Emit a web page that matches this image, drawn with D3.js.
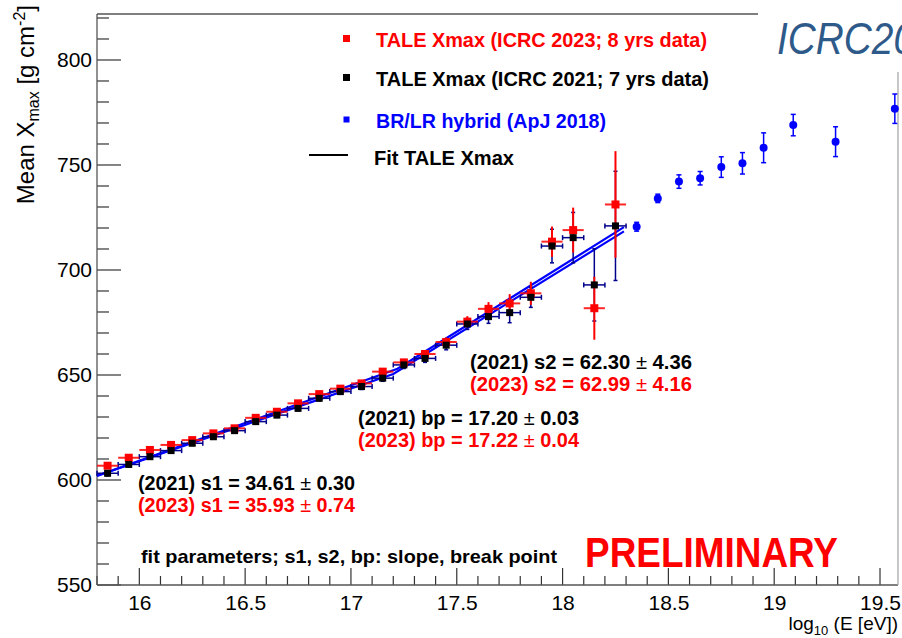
<!DOCTYPE html>
<html>
<head>
<meta charset="utf-8">
<script src="https://cdn.jsdelivr.net/npm/d3@7"></script>
<style>
  html, body { margin: 0; padding: 0; background: #fff; }
  svg { display: block; }
  text { font-family: "Liberation Sans", Arial, Helvetica, sans-serif; }
</style>
</head>
<body>
<svg id="chart" width="902" height="638"></svg>
<script>
// TALE bins: log10(E/eV) bin centres
const logE = [15.85, 15.95, 16.05, 16.15, 16.25, 16.35, 16.45, 16.55, 16.65, 16.75,
              16.85, 16.95, 17.05, 17.15, 17.25, 17.35, 17.45, 17.55, 17.65, 17.75,
              17.85, 17.95, 18.05, 18.15, 18.25];

// TALE <Xmax>, ICRC 2023 (8 years)
const xmax2023 = [606.8, 610.6, 614.3, 616.7, 619.0, 622.2, 624.6, 629.6, 632.5, 636.5,
                  640.9, 643.5, 646.0, 651.6, 656.0, 660.0, 665.7, 675.4, 681.5, 684.1,
                  688.9, 713.5, 719.0, 681.8, 731.2];
const err2023  = [1.2, 1.1, 1.0, 1.0, 1.0, 1.0, 1.0, 1.0, 1.1, 1.1,
                  1.2, 1.3, 1.4, 1.5, 1.7, 1.9, 2.2, 2.6, 3.2, 4.4,
                  5.5, 7.2, 10.7, 15.0, 25.4];

// TALE <Xmax>, ICRC 2021 (7 years)
const xmax2021 = [603.2, 607.4, 611.1, 614.0, 617.5, 620.6, 623.5, 627.8, 630.9, 634.1,
                  638.9, 642.1, 644.5, 648.5, 654.8, 657.9, 664.2, 674.3, 677.8, 679.7,
                  687.0, 711.4, 715.4, 692.9, 721.0];
const err2021  = [1.2, 1.1, 1.0, 1.0, 1.0, 1.0, 1.0, 1.0, 1.1, 1.1,
                  1.2, 1.3, 1.4, 1.5, 1.7, 1.9, 2.2, 2.6, 3.2, 4.8,
                  4.8, 8.0, 12.0, 17.2, 26.0];
const binHalfWidth = 0.05;

// BR/LR hybrid (ApJ 2018)
const logEHybrid = [18.35, 18.45, 18.55, 18.65, 18.75, 18.85, 18.95, 19.09, 19.29, 19.57];
const xmaxHybrid = [720.6, 734.1, 742.1, 743.7, 749.0, 750.8, 758.2, 769.0, 761.1, 776.8];
const errHybrid  = [2.1, 2.0, 3.2, 3.2, 4.9, 5.1, 7.1, 5.1, 7.1, 7.0];

// Broken-line fits: [2021, 2023]
const fitYears = ["2021", "2023"];
const fitS1 = [34.61, 35.93];
const fitS1Err = [0.30, 0.74];
const fitS2 = [62.30, 62.99];
const fitS2Err = [4.36, 4.16];
const fitBp = [17.20, 17.22];
const fitBpErr = [0.03, 0.04];
const fitXmaxAtBp = [650.5, 653.0];
const fitRange = [15.8, 18.29];

// Axis ticks
const xTickValues = [16, 16.5, 17, 17.5, 18, 18.5, 19, 19.5];
const yTickValues = [550, 600, 650, 700, 750, 800];

// Legend entries
const legendLabels = ["TALE Xmax (ICRC 2023; 8 yrs data)",
                      "TALE Xmax (ICRC 2021; 7 yrs data)",
                      "BR/LR hybrid (ApJ 2018)",
                      "Fit TALE Xmax"];

const RED = "#ff0000", NAVY = "#00008b", BLUE = "#0000ff";

const svg = d3.select("#chart");
const frame = {left: 97, right: 898, top: 14, bottom: 585};

const x = d3.scaleLinear().domain([15.8, 19.585]).range([frame.left, frame.right]);
const y = d3.scaleLinear().domain([550, 821.9]).range([frame.bottom, frame.top]);

// ---- axes ----
const xMinor = d3.range(158, 196).map(v => v / 10).filter(v => v <= 19.585);
const yMinor = d3.range(550, 821, 10);

const xAxis = d3.axisBottom(x).tickValues(xTickValues).tickSize(0).tickPadding(0)
  .tickFormat(d3.format("~g"));
const gx = svg.append("g").attr("transform", `translate(0,${frame.bottom})`).call(xAxis);
gx.select(".domain").remove();
gx.selectAll("text").attr("dy", null).attr("y", 25)
  .attr("font-size", 21).attr("fill", "#000")
  .attr("font-family", '"Liberation Sans", Arial, sans-serif');

const yAxis = d3.axisLeft(y).tickValues(yTickValues).tickSize(0).tickPadding(5);
const gy = svg.append("g").attr("transform", `translate(${frame.left},0)`).call(yAxis);
gy.select(".domain").remove();
gy.selectAll("text").attr("font-size", 21).attr("fill", "#000")
  .attr("font-family", '"Liberation Sans", Arial, sans-serif');

// tick marks drawn inside the frame
const ticks = svg.append("g").attr("stroke", "#333").attr("stroke-width", 1.2);
xMinor.forEach(v => {
  const major = Math.abs(v * 2 - Math.round(v * 2)) < 1e-6;
  ticks.append("line")
    .attr("x1", x(v)).attr("x2", x(v))
    .attr("y1", frame.bottom).attr("y2", frame.bottom - (major ? 17 : 9));
});
yMinor.forEach(v => {
  const major = v % 50 === 0;
  ticks.append("line")
    .attr("x1", frame.left).attr("x2", frame.left + (major ? 24 : 12))
    .attr("y1", y(v)).attr("y2", y(v));
});

// frame
const fr = svg.append("g").attr("stroke", "#555").attr("stroke-width", 1.3).attr("fill", "none");
fr.append("line").attr("x1", frame.left).attr("x2", frame.left).attr("y1", frame.top).attr("y2", frame.bottom);
fr.append("line").attr("x1", frame.left).attr("x2", frame.right).attr("y1", frame.bottom).attr("y2", frame.bottom);
fr.append("line").attr("x1", frame.left).attr("x2", frame.right).attr("y1", frame.top).attr("y2", frame.top);
fr.append("line").attr("x1", frame.right).attr("x2", frame.right).attr("y1", frame.top).attr("y2", frame.bottom)
  .attr("stroke", "#aaa");

// ---- fit lines ----
const fitLine = d3.line().x(d => x(d[0])).y(d => y(d[1]));
fitYears.forEach((yr, i) => {
  const f = e => fitXmaxAtBp[i] + (e < fitBp[i] ? fitS1[i] : fitS2[i]) * (e - fitBp[i]);
  const pts = [fitRange[0], fitBp[i], fitRange[1]].map(e => [e, f(e)]);
  svg.append("path").datum(pts).attr("d", fitLine)
    .attr("fill", "none").attr("stroke", BLUE).attr("stroke-width", 2.2);
});

// ---- TALE 2021 error bars (navy, with end caps) ----
const tale2021 = logE.map((e, i) => ({e, v: xmax2021[i], s: err2021[i]}));
const tale2023 = logE.map((e, i) => ({e, v: xmax2023[i], s: err2023[i]}));

const eb21 = svg.append("g").attr("stroke", NAVY).attr("stroke-width", 1.5);
tale2021.forEach(d => {
  const cx = x(d.e), cy = y(d.v);
  const x0 = x(d.e - binHalfWidth), x1 = x(d.e + binHalfWidth);
  const y0 = y(d.v - d.s), y1 = y(d.v + d.s);
  eb21.append("line").attr("x1", x0).attr("x2", x1).attr("y1", cy).attr("y2", cy);
  eb21.append("line").attr("x1", x0).attr("x2", x0).attr("y1", cy - 2.5).attr("y2", cy + 2.5);
  eb21.append("line").attr("x1", x1).attr("x2", x1).attr("y1", cy - 2.5).attr("y2", cy + 2.5);
  eb21.append("line").attr("x1", cx).attr("x2", cx).attr("y1", y0).attr("y2", y1);
  eb21.append("line").attr("x1", cx - 2).attr("x2", cx + 2).attr("y1", y0).attr("y2", y0);
  eb21.append("line").attr("x1", cx - 2).attr("x2", cx + 2).attr("y1", y1).attr("y2", y1);
});

// ---- TALE 2023 error bars (red) and markers ----
const eb23 = svg.append("g").attr("stroke", RED).attr("stroke-width", 2);
tale2023.forEach(d => {
  const cx = x(d.e), cy = y(d.v);
  eb23.append("line").attr("x1", x(d.e - binHalfWidth)).attr("x2", x(d.e + binHalfWidth))
    .attr("y1", cy).attr("y2", cy).attr("stroke-opacity", 0.85);
  eb23.append("line").attr("x1", cx).attr("x2", cx)
    .attr("y1", y(d.v - d.s)).attr("y2", y(d.v + d.s));
});
svg.append("g").selectAll("rect").data(tale2023).join("rect")
  .attr("x", d => x(d.e) - 4).attr("y", d => y(d.v) - 4)
  .attr("width", 8).attr("height", 8).attr("fill", RED);

// ---- TALE 2021 markers ----
svg.append("g").selectAll("rect").data(tale2021).join("rect")
  .attr("x", d => x(d.e) - 3.5).attr("y", d => y(d.v) - 3.5)
  .attr("width", 7).attr("height", 7).attr("fill", "#000");

// ---- BR/LR hybrid ----
const hybrid = logEHybrid.map((e, i) => ({e, v: xmaxHybrid[i], s: errHybrid[i]}));
const ebh = svg.append("g").attr("stroke", BLUE).attr("stroke-width", 1.5);
hybrid.forEach(d => {
  const cx = x(d.e), y0 = y(d.v - d.s), y1 = y(d.v + d.s);
  ebh.append("line").attr("x1", cx).attr("x2", cx).attr("y1", y0).attr("y2", y1);
  ebh.append("line").attr("x1", cx - 2.5).attr("x2", cx + 2.5).attr("y1", y0).attr("y2", y0);
  ebh.append("line").attr("x1", cx - 2.5).attr("x2", cx + 2.5).attr("y1", y1).attr("y2", y1);
});
svg.append("g").selectAll("circle").data(hybrid).join("circle")
  .attr("cx", d => x(d.e)).attr("cy", d => y(d.v)).attr("r", 4).attr("fill", BLUE);

// ---- legend ----
const legColors = [RED, "#000", BLUE, "#000"];
const legY = [39, 78, 120, 157];
const legWidths = [331, 333, 230, 140];
const leg = svg.append("g");
legendLabels.forEach((t, i) => {
  leg.append("text").attr("x", i === 3 ? 374 : 376).attr("y", legY[i] + 8)
    .attr("font-size", 21).attr("font-weight", "bold").attr("fill", legColors[i])
    .attr("textLength", legWidths[i]).attr("lengthAdjust", "spacingAndGlyphs").text(t);
});
leg.append("rect").attr("x", 343).attr("y", legY[0] - 4).attr("width", 7).attr("height", 7).attr("fill", RED);
leg.append("rect").attr("x", 343).attr("y", legY[1] - 4).attr("width", 7).attr("height", 7).attr("fill", "#000");
leg.append("rect").attr("x", 343.5).attr("y", legY[2] - 3.5).attr("width", 6).attr("height", 6).attr("fill", BLUE);
leg.append("line").attr("x1", 309).attr("x2", 348).attr("y1", legY[3] - 2).attr("y2", legY[3] - 2)
  .attr("stroke", "#000").attr("stroke-width", 2);

// ---- fit parameter annotations ----
const fmt = d3.format(".2f");
function paramText(px, py, width, yr, name, val, err, color) {
  const t = svg.append("text").attr("x", px).attr("y", py)
    .attr("font-size", 20).attr("font-weight", "bold").attr("fill", color)
    .attr("textLength", width).attr("lengthAdjust", "spacingAndGlyphs");
  t.append("tspan").text(`(${yr}) ${name} = ${fmt(val)} `);
  t.append("tspan").attr("font-weight", "normal").text("\u00b1");
  t.append("tspan").text(` ${fmt(err)}`);
}
paramText(470, 369, 222, fitYears[0], "s2", fitS2[0], fitS2Err[0], "#000");
paramText(470, 391, 222, fitYears[1], "s2", fitS2[1], fitS2Err[1], RED);
paramText(358, 425, 221, fitYears[0], "bp", fitBp[0], fitBpErr[0], "#000");
paramText(358, 447, 221, fitYears[1], "bp", fitBp[1], fitBpErr[1], RED);
paramText(138, 490, 217, fitYears[0], "s1", fitS1[0], fitS1Err[0], "#000");
paramText(138, 512, 217, fitYears[1], "s1", fitS1[1], fitS1Err[1], RED);

svg.append("text").attr("x", 141).attr("y", 563)
  .attr("font-size", 19).attr("font-weight", "bold").attr("fill", "#000")
  .attr("textLength", 416).attr("lengthAdjust", "spacingAndGlyphs")
  .text("fit parameters; s1, s2, bp: slope, break point");
svg.append("text").attr("x", 585).attr("y", 567)
  .attr("font-size", 42).attr("font-weight", "bold").attr("fill", RED)
  .attr("textLength", 253).attr("lengthAdjust", "spacingAndGlyphs")
  .text("PRELIMINARY");

// ---- axis titles ----
const yt = svg.append("text").attr("transform", "translate(34,5) rotate(-90)")
  .attr("text-anchor", "end").attr("font-size", 24).attr("fill", "#000");
yt.append("tspan").text("Mean X");
yt.append("tspan").attr("font-size", 16).attr("dy", 5).text("max");
yt.append("tspan").attr("dy", -5).text(" [g cm");
yt.append("tspan").attr("font-size", 16).attr("dy", -9).text("-2");
yt.append("tspan").attr("dy", 9).text("]");

const xt = svg.append("text").attr("x", 898).attr("y", 630)
  .attr("text-anchor", "end").attr("font-size", 19).attr("fill", "#000");
xt.append("tspan").text("log");
xt.append("tspan").attr("font-size", 13).attr("dy", 5).text("10");
xt.append("tspan").attr("dy", -5).text(" (E [eV])");

// ---- conference banner ----
svg.append("rect").attr("x", 758).attr("y", 0).attr("width", 144).attr("height", 72).attr("fill", "#fff");
svg.append("text").attr("x", 777).attr("y", 54)
  .attr("font-family", "'Open Sans', Lato, sans-serif").attr("font-style", "italic")
  .attr("font-size", 44).attr("fill", "#2e5a8a")
  .attr("textLength", 138).attr("lengthAdjust", "spacingAndGlyphs").text("ICRC20");
</script>
</body>
</html>
